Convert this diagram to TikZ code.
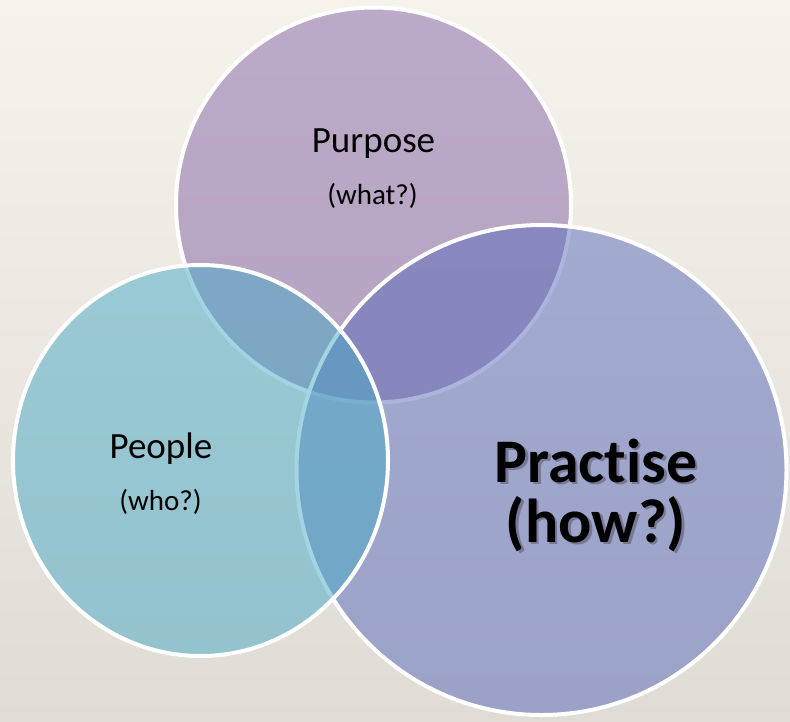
\documentclass[tikz,border=0pt]{standalone}
\usepackage{fontspec}
\setmainfont{Carlito}[Ligatures=NoCommon]
\usetikzlibrary{shapes.geometric}
\definecolor{bgtop}{RGB}{246,243,237}
\definecolor{bgbot}{RGB}{223,219,213}
\definecolor{purposecol}{RGB}{131,98,166}
\definecolor{practisecol}{RGB}{89,106,186}
\definecolor{peoplecol}{RGB}{71,170,198}
\definecolor{shadowcol}{RGB}{118,120,150}
\newcommand{\shadowtext}[1]{\rlap{\kern2.5pt\raisebox{-2.5pt}{\color{shadowcol}#1}}#1}
\tikzset{
  venn/.style={draw=white, line width=4pt, inner sep=0pt, outer sep=0pt, fill opacity=0.5, draw opacity=1},
  small/.style={font=\fontsize{37}{44}\selectfont, anchor=base, inner sep=0pt},
  smaller/.style={font=\fontsize{29}{35}\selectfont, anchor=base, inner sep=0pt},
  big/.style={font=\fontsize{62}{60}\bfseries\selectfont, anchor=base, inner sep=0pt},
}
\begin{document}
\begin{tikzpicture}[x=1pt,y=-1pt]
\shade[top color=bgtop, bottom color=bgbot] (0,0) rectangle (790,721);
\useasboundingbox (0,0) rectangle (790,721);
% circles
\node[venn, circle, fill=purposecol, minimum size=395pt] (purpose) at (373.5,205) {};
\node[venn, circle, fill=practisecol, minimum size=490pt] (practise) at (541.5,470) {};
\node[venn, ellipse, fill=peoplecol, minimum width=375pt, minimum height=391pt] (people) at (200.5,460.5) {};
% labels
\node[small] (purposelbl) at (373.5,152) {Purpose};
\node[smaller] (whatlbl) at (372.5,204) {(what?)};
\node[small] (peoplelbl) at (161,458) {People};
\node[smaller] (wholbl) at (160.5,510) {(who?)};
\node[big] (practiselbl) at (596,482) {\shadowtext{Practise}};
\node[big] (howlbl) at (596,542) {\shadowtext{(how?)}};
\end{tikzpicture}
\end{document}
